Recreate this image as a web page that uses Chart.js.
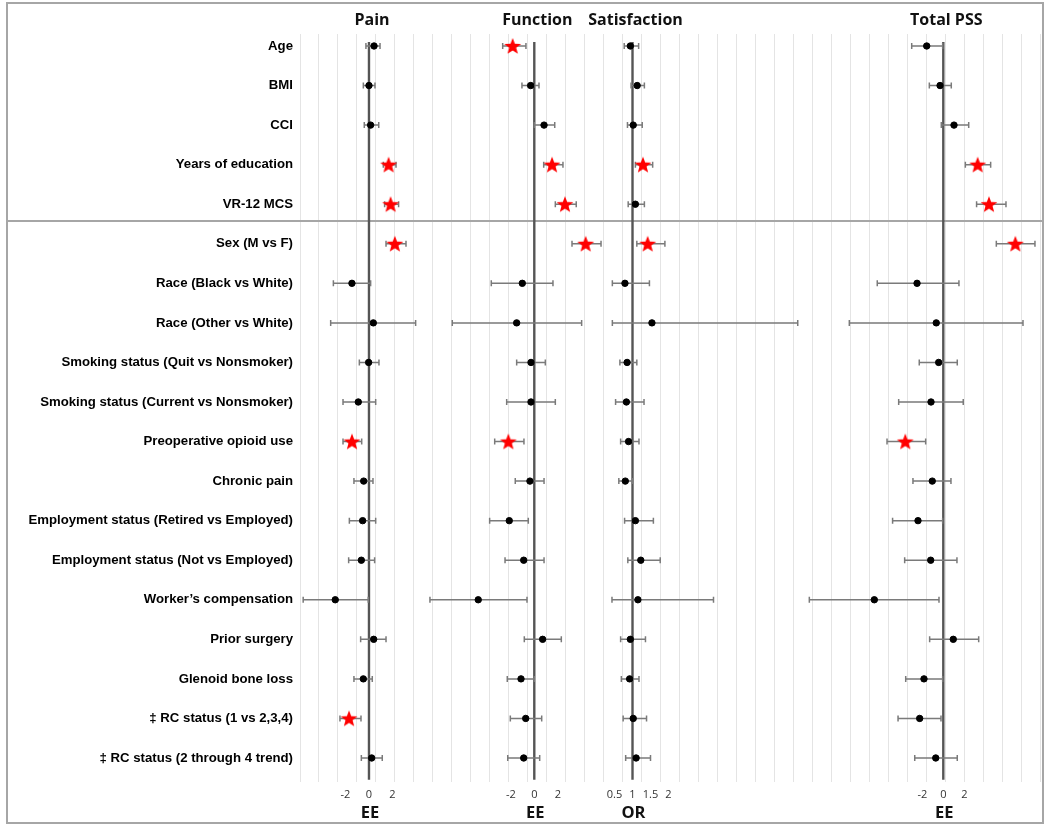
<!DOCTYPE html>
<html>
<head>
<meta charset="utf-8">
<script src="https://cdn.jsdelivr.net/npm/chart.js@4.4.1/dist/chart.umd.min.js"></script>
<style>
  html, body { margin: 0; padding: 0; background: #fff; }
  canvas { display: block; }
</style>
</head>
<body>
<canvas id="c" width="1050" height="827"></canvas>
<script>
const rowLabels = [
  "Age", "BMI", "CCI", "Years of education", "VR-12 MCS",
  "Sex (M vs F)", "Race (Black vs White)", "Race (Other vs White)",
  "Smoking status (Quit vs Nonsmoker)", "Smoking status (Current vs Nonsmoker)",
  "Preoperative opioid use", "Chronic pain",
  "Employment status (Retired vs Employed)", "Employment status (Not vs Employed)",
  "Worker\u2019s compensation", "Prior surgery", "Glenoid bone loss",
  "\u2021 RC status (1 vs 2,3,4)", "\u2021 RC status (2 through 4 trend)"
];

const panelTitles = ["Pain", "Function", "Satisfaction", "Total PSS"];
const measureLabels = ["EE", "EE", "OR", "EE"];
const eeTicks = [-2, 0, 2];
const orTicks = [0.5, 1, 1.5, 2];

// Pain (estimated effect)
const painEst = [0.43, 0, 0.14, 1.67, 1.84, 2.2, -1.45, 0.37, -0.03, -0.91, -1.45, -0.45, -0.54, -0.65, -2.87, 0.4, -0.48, -1.7, 0.23];
const painLo  = [-0.26, -0.48, -0.4, 1.22, 1.33, 1.45, -3.03, -3.26, -0.82, -2.21, -2.21, -1.28, -1.67, -1.73, -5.6, -0.71, -1.28, -2.47, -0.65];
const painHi  = [0.94, 0.51, 0.83, 2.3, 2.52, 3.15, 0.14, 3.97, 0.85, 0.57, -0.62, 0.34, 0.57, 0.48, -0.06, 1.45, 0.28, -0.68, 1.13];
const painSig = [3, 4, 5, 10, 17];

// Function (estimated effect)
const funcEst = [-1.84, -0.31, 0.83, 1.51, 2.61, 4.37, -1.02, -1.5, -0.28, -0.28, -2.21, -0.37, -2.13, -0.9, -4.77, 0.71, -1.13, -0.73, -0.9];
const funcLo  = [-2.69, -1.05, 0, 0.8, 1.79, 3.21, -3.66, -6.98, -1.5, -2.35, -3.37, -1.62, -3.8, -2.49, -8.88, -0.85, -2.3, -2.04, -2.26];
const funcHi  = [-0.71, 0.4, 1.74, 2.44, 3.57, 5.68, 1.59, 4.03, 0.94, 1.79, -0.88, 0.83, -0.51, 0.83, -0.62, 2.3, 0, 0.63, 0.46];
const funcSig = [0, 3, 4, 5, 10];

// Satisfaction (odds ratio)
const satEst = [0.94, 1.13, 1.02, 1.29, 1.08, 1.42, 0.79, 1.54, 0.85, 0.83, 0.89, 0.8, 1.08, 1.23, 1.15, 0.94, 0.92, 1.02, 1.1];
const satLo  = [0.77, 0.96, 0.86, 1.08, 0.88, 1.12, 0.44, 0.44, 0.65, 0.53, 0.67, 0.62, 0.78, 0.87, 0.43, 0.67, 0.69, 0.74, 0.81];
const satHi  = [1.17, 1.33, 1.27, 1.56, 1.33, 1.9, 1.47, 5.59, 1.12, 1.32, 1.18, 1.0, 1.58, 1.77, 3.25, 1.36, 1.18, 1.39, 1.5];
const satSig = [3, 5];

// Total PSS (estimated effect)
const pssEst = [-1.58, -0.31, 1.02, 3.27, 4.35, 6.86, -2.5, -0.67, -0.44, -1.17, -3.62, -1.05, -2.41, -1.2, -6.57, 0.95, -1.84, -2.25, -0.72];
const pssLo  = [-3.01, -1.33, -0.19, 2.1, 3.17, 5.05, -6.29, -8.95, -2.29, -4.25, -5.36, -2.89, -4.83, -3.68, -12.76, -1.3, -3.58, -4.31, -2.72];
const pssHi  = [-0.06, 0.76, 2.42, 4.51, 5.97, 8.73, 1.49, 7.59, 1.33, 1.9, -1.68, 0.73, -0.06, 1.3, -0.41, 3.37, -0.06, -0.22, 1.33];
const pssSig = [3, 4, 5, 10];

const panels = [
  { id: "xPain", est: painEst, lo: painLo, hi: painHi, sig: painSig, ref: 0, ticks: eeTicks, min: -5.87, max: 57.1 },
  { id: "xFunc", est: funcEst, lo: funcLo, hi: funcHi, sig: funcSig, ref: 0, ticks: eeTicks, min: -19.94, max: 43.04 },
  { id: "xSat",  est: satEst,  lo: satLo,  hi: satHi,  sig: satSig,  ref: 1, ticks: orTicks, min: -8.236, max: 12.319 },
  { id: "xPss",  est: pssEst,  lo: pssLo,  hi: pssHi,  sig: pssSig,  ref: 0, ticks: eeTicks, min: -61.27, max: 9.21 }
];
panels.forEach((p, i) => { p.title = panelTitles[i]; p.measure = measureLabels[i]; });

// red five-pointed star marker
const starImg = document.createElement("canvas");
starImg.width = 20; starImg.height = 20;
(function () {
  const g = starImg.getContext("2d");
  g.fillStyle = "#ff0000";
  g.beginPath();
  for (let k = 0; k < 10; k++) {
    const r = k % 2 === 0 ? 8.8 : 3.7;
    const a = -Math.PI / 2 + k * Math.PI / 5;
    const px = 10 + r * Math.cos(a), py = 10.7 + r * Math.sin(a);
    if (k === 0) g.moveTo(px, py); else g.lineTo(px, py);
  }
  g.closePath();
  g.fill();
})();

const datasets = panels.map(p => ({
  label: p.title,
  xAxisID: p.id,
  yAxisID: "y",
  data: p.est.map((v, i) => ({ x: v, y: i })),
  ciLo: p.lo,
  ciHi: p.hi,
  pointStyle: ctx => p.sig.includes(ctx.dataIndex) ? starImg : "circle",
  pointRadius: 3.2,
  borderWidth: 1,
  backgroundColor: "#000",
  borderColor: "#000",
  showLine: false
}));

const scales = {
  xGrid: {
    type: "linear", position: "bottom", min: 0, max: 39,
    ticks: { display: false, stepSize: 1 },
    grid: { color: "#e4e4e4", lineWidth: 1, drawTicks: false },
    border: { display: false },
    afterFit: s => { s.height = 0; }
  },
  y: {
    type: "linear", position: "left", reverse: true,
    min: -0.303, max: 18.607,
    grid: { display: false, drawTicks: false },
    border: { display: false },
    afterBuildTicks: s => { s.ticks = rowLabels.map((_, i) => ({ value: i })); },
    afterFit: s => { s.width = 300; },
    ticks: {
      padding: 7, autoSkip: false, color: "#000",
      font: { family: '"Liberation Sans", Arial, sans-serif', weight: "bold", size: 13.2 },
      callback: v => (rowLabels[v] !== undefined ? rowLabels[v] : "")
    }
  }
};
panels.forEach(p => {
  scales[p.id] = { type: "linear", display: false, min: p.min, max: p.max };
});

const forestPlugin = {
  id: "forest",
  beforeDraw(chart) {
    const c = chart.ctx;
    c.save();
    c.fillStyle = "#fff";
    c.fillRect(0, 0, chart.width, chart.height);
    c.restore();
  },
  beforeDatasetsDraw(chart) {
    const c = chart.ctx, y = chart.scales.y;
    c.save();
    // separator between continuous and categorical predictors
    const sy = Math.round(y.getPixelForValue(4.43));
    c.strokeStyle = "#a6a6a6"; c.lineWidth = 2;
    c.beginPath(); c.moveTo(7, sy); c.lineTo(1043, sy); c.stroke();
    // reference lines
    panels.forEach(p => {
      const x0 = chart.scales[p.id].getPixelForValue(p.ref);
      c.strokeStyle = "#555"; c.lineWidth = 2.4;
      c.beginPath();
      c.moveTo(x0, y.getPixelForValue(-0.1));
      c.lineTo(x0, y.getPixelForValue(18.55));
      c.stroke();
    });
    // confidence intervals
    chart.data.datasets.forEach(ds => {
      const xs = chart.scales[ds.xAxisID];
      c.strokeStyle = "#7a7a7a"; c.lineWidth = 1.5;
      ds.data.forEach((pt, i) => {
        const py = y.getPixelForValue(pt.y);
        const a = xs.getPixelForValue(ds.ciLo[i]);
        const b = xs.getPixelForValue(ds.ciHi[i]);
        c.beginPath();
        c.moveTo(a, py); c.lineTo(b, py);
        c.moveTo(a, py - 3); c.lineTo(a, py + 3);
        c.moveTo(b, py - 3); c.lineTo(b, py + 3);
        c.stroke();
      });
    });
    c.restore();
  },
  afterDraw(chart) {
    const c = chart.ctx;
    c.save();
    c.textAlign = "center";
    c.textBaseline = "middle";
    panels.forEach(p => {
      const xs = chart.scales[p.id];
      const xr = xs.getPixelForValue(p.ref);
      c.fillStyle = "#111";
      c.font = 'bold 16px "Open Sans", sans-serif';
      c.fillText(p.title, xr + 3, 20);
      c.font = 'bold 16.5px "Open Sans", sans-serif';
      c.fillText(p.measure, xr + 1, 813);
      c.font = '11px "Open Sans", sans-serif';
      c.fillStyle = "#333";
      p.ticks.forEach(t => {
        c.fillText(String(t), xs.getPixelForValue(t), 795);
      });
    });
    // outer frame
    c.strokeStyle = "#a6a6a6"; c.lineWidth = 2;
    c.strokeRect(7, 3, 1036, 820);
    c.restore();
  }
};

new Chart(document.getElementById("c"), {
  type: "scatter",
  data: { datasets },
  options: {
    responsive: false,
    devicePixelRatio: 1,
    animation: false,
    events: [],
    layout: { padding: { left: 0, right: 10, top: 34, bottom: 45 } },
    plugins: { legend: { display: false }, tooltip: { enabled: false }, title: { display: false } },
    scales
  },
  plugins: [forestPlugin]
});
</script>
</body>
</html>
